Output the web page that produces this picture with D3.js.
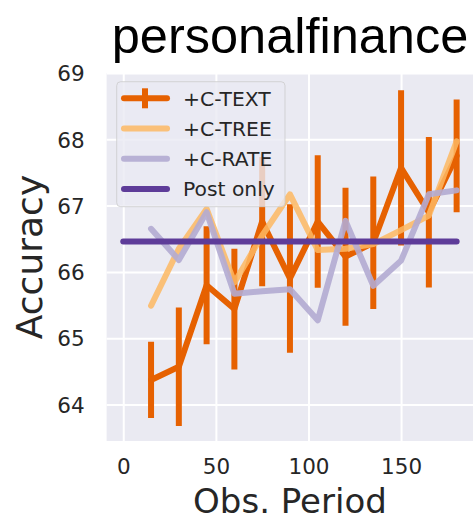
<!DOCTYPE html>
<html>
<head>
<meta charset="utf-8">
<script src="https://cdn.jsdelivr.net/npm/d3@7"></script>
<style>
  html, body { margin: 0; padding: 0; background: #ffffff; }
  svg { display: block; }
</style>
</head>
<body>
<script>
// ---- data ----
const periods = [15, 30, 45, 60, 75, 90, 105, 120, 135, 150, 165, 180];
const ctextMean = [64.37, 64.57, 65.80, 65.44, 66.76, 65.90, 66.76, 66.23, 66.44, 67.57, 66.90, 67.75];
const ctextErr  = [0.575, 0.895, 0.89, 0.91, 0.975, 1.12, 1.00, 1.04, 1.00, 1.17, 1.135, 0.85];
const ctree = [65.49, 66.35, 66.95, 65.84, 66.55, 67.17, 66.33, 66.35, 66.42, 66.63, 66.85, 67.97];
const crate = [66.65, 66.18, 66.90, 65.67, 65.71, 65.74, 65.27, 66.77, 65.79, 66.17, 67.17, 67.23];
const postOnly = 66.46;
const postOnlyRange = [0, 180];
const xTicks = [0, 50, 100, 150];
const yTicks = [64, 65, 66, 67, 68, 69];
const legendLabels = ["+C-TEXT", "+C-TREE", "+C-RATE", "Post only"];
const colors = { text: "#e66101", tree: "#fdb863", rate: "#b2abd2", post: "#5e3c99" };

// ---- layout ----
const W = 473, H = 522;
const plot = { left: 106.6, right: 473.3, top: 73, bottom: 441 };
const tickFont = "DejaVu Sans, sans-serif";
const ink = "#262626";

const svg = d3.select("body").append("svg").attr("width", W).attr("height", H);

const x = d3.scaleLinear().domain([-9, 189]).range([plot.left, plot.right]);
const y = d3.scaleLinear().domain([63.45, 69.0]).range([plot.bottom, plot.top]);

// background
svg.append("rect").attr("x", plot.left).attr("y", plot.top)
  .attr("width", plot.right - plot.left).attr("height", plot.bottom - plot.top)
  .attr("fill", "#eaeaf2");

svg.append("clipPath").attr("id", "clip").append("rect")
  .attr("x", plot.left).attr("y", plot.top)
  .attr("width", plot.right - plot.left).attr("height", plot.bottom - plot.top);

// grid via axes
const gx = svg.append("g").attr("transform", `translate(0,${plot.bottom})`)
  .call(d3.axisBottom(x).tickValues(xTicks).tickSize(-(plot.bottom - plot.top)).tickPadding(18).tickFormat(d3.format("d")));
const gy = svg.append("g").attr("transform", `translate(${plot.left},0)`)
  .call(d3.axisLeft(y).tickValues(yTicks).tickSize(-(plot.right - plot.left)).tickPadding(22).tickFormat(d3.format("d")));
[gx, gy].forEach(g => {
  g.select(".domain").remove();
  g.selectAll(".tick line").attr("stroke", "#ffffff").attr("stroke-width", 2);
  g.selectAll(".tick text").attr("fill", ink).style("font-family", tickFont).style("font-size", "21.5px");
});
gy.selectAll(".tick text").attr("dy", "0.36em");

const plotG = svg.append("g").attr("clip-path", "url(#clip)");

// C-TEXT error bars
plotG.append("g").selectAll("line").data(periods).join("line")
  .attr("x1", d => x(d)).attr("x2", d => x(d))
  .attr("y1", (d, i) => y(ctextMean[i] - ctextErr[i]))
  .attr("y2", (d, i) => y(ctextMean[i] + ctextErr[i]))
  .attr("stroke", colors.text).attr("stroke-width", 6);

const line = d3.line().x(d => x(d[0])).y(d => y(d[1]));
const pairs = arr => periods.map((p, i) => [p, arr[i]]);

plotG.append("path").attr("d", line(pairs(ctextMean)))
  .attr("fill", "none").attr("stroke", colors.text).attr("stroke-width", 6)
  .attr("stroke-linejoin", "round").attr("stroke-linecap", "round");
plotG.append("path").attr("d", line(pairs(ctree)))
  .attr("fill", "none").attr("stroke", colors.tree).attr("stroke-width", 6).attr("stroke-opacity", 0.85)
  .attr("stroke-linejoin", "round").attr("stroke-linecap", "round");
plotG.append("path").attr("d", line(pairs(crate)))
  .attr("fill", "none").attr("stroke", colors.rate).attr("stroke-width", 6).attr("stroke-opacity", 0.9)
  .attr("stroke-linejoin", "round").attr("stroke-linecap", "round");
plotG.append("line")
  .attr("x1", x(postOnlyRange[0])).attr("x2", x(postOnlyRange[1]))
  .attr("y1", y(postOnly)).attr("y2", y(postOnly))
  .attr("stroke", colors.post).attr("stroke-width", 6).attr("stroke-linecap", "round");

// legend
const leg = svg.append("g");
leg.append("rect").attr("x", 116.7).attr("y", 81.7).attr("width", 168.3).attr("height", 125)
  .attr("rx", 4).attr("fill", "#eaeaf2").attr("fill-opacity", 0.8)
  .attr("stroke", "#cccccc").attr("stroke-opacity", 0.8).attr("stroke-width", 1);
const legColors = [colors.text, colors.tree, colors.rate, colors.post];
const legOpac = [1, 0.85, 0.9, 1];
legendLabels.forEach((lab, i) => {
  const cy = 98.3 + i * 30.2;
  leg.append("line").attr("x1", 124).attr("x2", 167).attr("y1", cy).attr("y2", cy)
    .attr("stroke", legColors[i]).attr("stroke-opacity", legOpac[i]).attr("stroke-width", 6).attr("stroke-linecap", "round");
  if (i === 0) {
    leg.append("line").attr("x1", 145).attr("x2", 145).attr("y1", cy - 10).attr("y2", cy + 10)
      .attr("stroke", legColors[i]).attr("stroke-width", 6);
  }
  leg.append("text").attr("x", 183).attr("y", cy).attr("dy", "0.36em")
    .attr("fill", ink).style("font-family", tickFont).style("font-size", "20.3px").text(lab);
});

// axis labels
svg.append("text").attr("x", (plot.left + plot.right) / 2).attr("y", 513)
  .attr("text-anchor", "middle").attr("fill", ink)
  .style("font-family", tickFont).style("font-size", "34px").text("Obs. Period");
svg.append("text").attr("transform", `translate(42,${(plot.top + plot.bottom) / 2}) rotate(-90)`)
  .attr("text-anchor", "middle").attr("fill", ink)
  .style("font-family", tickFont).style("font-size", "36px").text("Accuracy");

// title
svg.append("text").attr("x", 290).attr("y", 53)
  .attr("text-anchor", "middle").attr("fill", "#000000")
  .style("font-family", "Liberation Sans, Arial, sans-serif").style("font-size", "50.5px").text("personalfinance");
</script>
</body>
</html>
